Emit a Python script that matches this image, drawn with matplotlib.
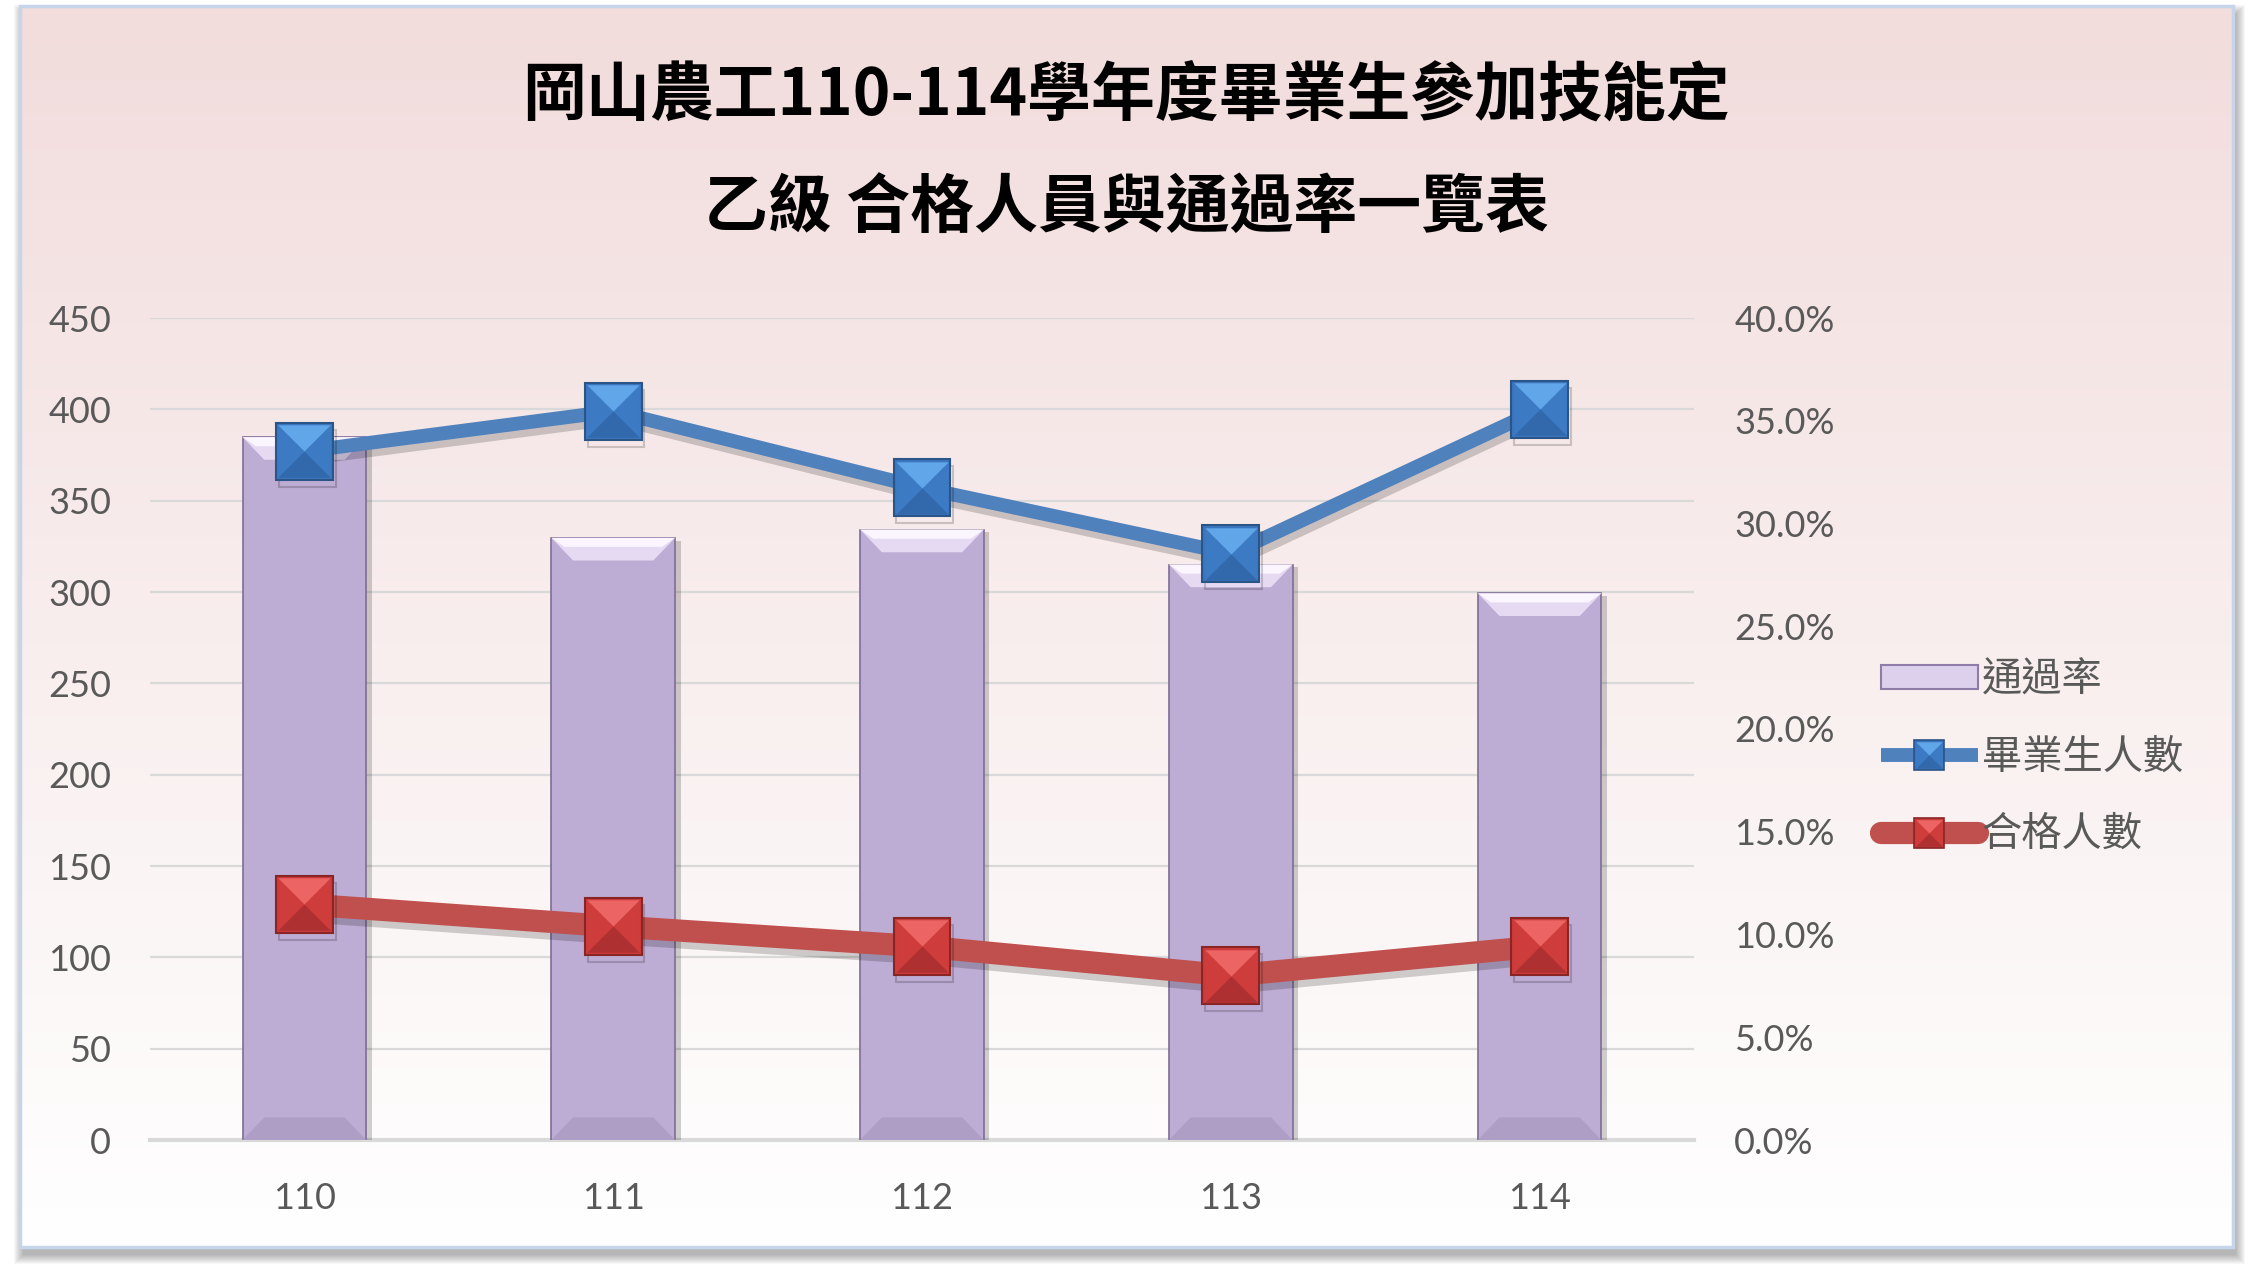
import numpy as np
import matplotlib.pyplot as plt
import matplotlib.patheffects as pe
from matplotlib.patches import Rectangle, Polygon, Patch
from matplotlib.lines import Line2D
from matplotlib.path import Path
from matplotlib.legend_handler import HandlerTuple

# data
years = ['110', '111', '112', '113', '114']
graduates = [377, 399, 357, 321, 400]      # 畢業生人數
passed = [129, 117, 106, 90, 106]          # 合格人數
pass_rate = [0.342, 0.293, 0.297, 0.280, 0.266]  # 通過率

title_1 = '岡山農工110-114學年度畢業生參加技能定'
title_2 = '乙級 合格人員與通過率一覽表'
labels = ['通過率', '畢業生人數', '合格人數']

plt.rcParams['font.family'] = ['Lato', 'Noto Sans CJK TC', 'DejaVu Sans']
CJK = ['Noto Sans CJK TC', 'DejaVu Sans']
GRAY = '#595959'

W, H = 2252, 1280
fig = plt.figure(figsize=(W / 100, H / 100), dpi=100)

# ---- card background with shadow and gradient
bg = fig.add_axes([0, 0, 1, 1])
bg.set_xlim(0, W)
bg.set_ylim(H, 0)
bg.axis('off')
cx0, cy0, cx1, cy1 = 20, 6, 2233, 1247
for k in range(10):
    bg.add_patch(Rectangle((cx0 + 3 - k, cy0 + 8 - k), (cx1 - cx0) + 2 * k, (cy1 - cy0) + 2 * k,
                           color='k', alpha=0.03, lw=0, zorder=1))
t = np.linspace(0, 1, 256)[:, None, None]
top = np.array([242, 220, 220]) / 255
img = top * (1 - t) + np.ones(3) * t
img = np.repeat(img, 2, axis=1)
bg.imshow(img, extent=[cx0, cx1, cy1, cy0], aspect='auto', interpolation='bilinear', zorder=2)
bg.add_patch(Rectangle((cx0, cy0), cx1 - cx0, cy1 - cy0, fill=False, ec='#C6D5E9', lw=2.5, zorder=3))

fig.text(0.5, 1 - 96 / H, title_1, ha='center', va='center', fontsize=46,
         fontweight='bold', family=CJK, color='black')
fig.text(0.5, 1 - 208 / H, title_2, ha='center', va='center', fontsize=46,
         fontweight='bold', family=CJK, color='black')

# ---- axes
x = np.arange(len(years))
ax = fig.add_axes([150 / W, 1 - 1140 / H, (1694 - 150) / W, (1140 - 318) / H])
ax.patch.set_visible(False)
ax.set_xlim(-0.5, len(years) - 0.5)
ax.set_ylim(0, 450)
ax.set_yticks(range(0, 451, 50))
ax.set_xticks(x, years)
ax.grid(axis='y', color='#D9D9D9', lw=1.6)
ax.set_axisbelow(True)
for s in ['top', 'left', 'right']:
    ax.spines[s].set_visible(False)
ax.spines['bottom'].set_color('#D9D9D9')
ax.spines['bottom'].set_linewidth(3)
ax.tick_params(axis='both', length=0, labelsize=26, labelcolor=GRAY)
ax.tick_params(axis='y', pad=28)
ax.tick_params(axis='x', pad=30)

ax_bar = ax.twinx()
ax_bar.set_ylim(0, 0.40)
ax_bar.set_yticks(np.arange(0, 0.401, 0.05))
ax_bar.set_yticklabels(['{:.1%}'.format(v) for v in np.arange(0, 0.401, 0.05)])
for s in ax_bar.spines.values():
    s.set_visible(False)
ax_bar.tick_params(axis='y', length=0, labelsize=26, labelcolor=GRAY, pad=29)

bw = 0.4
bar_shadow = [pe.SimplePatchShadow(offset=(4, -2), alpha=0.18, shadow_rgbFace='k'), pe.Normal()]
ax_bar.bar(x, pass_rate, width=bw, color='#BDACD3', edgecolor='#7E6D96', lw=1.2,
           zorder=2, path_effects=bar_shadow)
bx, by = 0.07, 0.011
for xi, v in zip(x, pass_rate):
    l, r = xi - bw / 2, xi + bw / 2
    ax_bar.add_patch(Polygon([(l, v), (r, v), (r - bx, v - by), (l + bx, v - by)],
                             fc='#E6DAF3', ec='none', zorder=3))
    ax_bar.add_patch(Polygon([(l, v), (r, v), (r - bx * 0.6, v - by * 0.4), (l + bx * 0.6, v - by * 0.4)],
                             fc='#FAF5FF', ec='none', zorder=3))
    ax_bar.add_patch(Polygon([(l, 0), (r, 0), (r - bx, by), (l + bx, by)],
                             fc='#AE9DC5', ec='none', zorder=3))

ax_line = ax.twinx()
ax_line.set_ylim(0, 450)
ax_line.axis('off')

tri = {
    'top': Path([(-1, 1), (1, 1), (0, 0), (-1, 1)]),
    'bottom': Path([(-1, -1), (1, -1), (0, 0), (-1, -1)]),
    'left': Path([(-1, -1), (-1, 1), (0, 0), (-1, -1)]),
    'right': Path([(1, -1), (1, 1), (0, 0), (1, -1)]),
}


def series(a, vals, line_c, lw, base, edge, light, side, dark, ms):
    shadow = [pe.SimpleLineShadow(offset=(2, -5), alpha=0.18), pe.Normal()]
    a.plot(x, vals, color=line_c, lw=lw, zorder=3, path_effects=shadow)
    a.plot(x, vals, ls='none', marker='s', ms=ms, mfc=base, mec=edge, mew=1.5, zorder=4,
           path_effects=shadow)
    for key, c in [('left', side), ('right', side), ('bottom', dark), ('top', light)]:
        a.plot(x, vals, ls='none', marker=tri[key], ms=ms * 0.92, mfc=c, mec='none', zorder=5)


BLUE = ('#3A76C0', '#2B5487', '#62A6EA', '#3C7BC4', '#3269AD')
RED = ('#CC3A3A', '#8A2525', '#EC6464', '#CF3C3C', '#AE3030')
series(ax_line, graduates, '#4F81BD', 10, *BLUE, 41)
series(ax_line, passed, '#C0504D', 16, *RED, 41)


# ---- legend
def mk(line_c, lw, base, edge, light, side, dark, cap):
    hs = [Line2D([], [], color=line_c, lw=lw, solid_capstyle=cap),
          Line2D([], [], ls='none', marker='s', ms=21, mfc=base, mec=edge, mew=1.2)]
    for key, c in [('left', side), ('right', side), ('bottom', dark), ('top', light)]:
        hs.append(Line2D([], [], ls='none', marker=tri[key], ms=19, mfc=c, mec='none'))
    return tuple(hs)


h_bar = Patch(fc='#DCD0EC', ec='#8E7BA8', lw=1.5)
h_blue = mk('#4F81BD', 10, *BLUE, 'butt')
h_red = mk('#C0504D', 16, *RED, 'round')
fig.legend([h_bar, h_blue, h_red], labels, loc='center left',
           bbox_to_anchor=(1881 / W, 1 - 757 / H), frameon=False,
           prop={'family': CJK, 'size': 29}, labelcolor=GRAY,
           handlelength=2.4, handleheight=0.55, handletextpad=0.1, labelspacing=0.9,
           borderpad=0, borderaxespad=0,
           handler_map={tuple: HandlerTuple(ndivide=1, pad=0)})

fig.savefig('out.png', dpi=100)
